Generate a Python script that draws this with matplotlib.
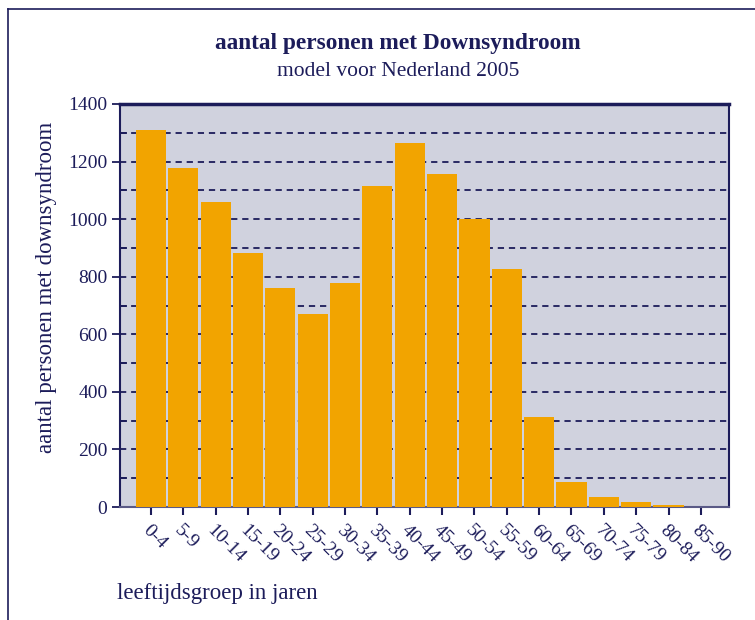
import matplotlib
matplotlib.use('Agg')
import matplotlib.pyplot as plt
from matplotlib.lines import Line2D
from matplotlib.ticker import MultipleLocator

# leeftijdsgroepen en aantallen
leeftijden = ['0-4', '5-9', '10-14', '15-19', '20-24', '25-29', '30-34', '35-39',
              '40-44', '45-49', '50-54', '55-59', '60-64', '65-69', '70-74',
              '75-79', '80-84', '85-90']
aantallen = [1310, 1178, 1060, 882, 762, 670, 778, 1115,
             1265, 1157, 1000, 827, 314, 88, 36, 18, 7, 1]
y_ticks = [0, 200, 400, 600, 800, 1000, 1200, 1400]

navy = '#1c1c5a'
oranje = '#f2a400'
achtergrond = '#d0d2de'

plt.rcParams['font.family'] = ['Liberation Serif', 'DejaVu Serif']
plt.rcParams['lines.scale_dashes'] = False

fig = plt.figure(figsize=(7.55, 6.2), dpi=100)
ax = fig.add_axes([120 / 755, 1 - 507 / 620, 609 / 755, 403 / 620])
ax.set_facecolor(achtergrond)

x = list(range(len(leeftijden)))
ax.bar(x, aantallen, width=0.93, color=oranje, zorder=3)

ax.set_xlim(-0.96, 17.87)
ax.set_ylim(0, 1400)
ax.set_yticks(y_ticks)
ax.yaxis.set_minor_locator(MultipleLocator(100))
ax.set_xticks(x)
ax.set_xticklabels(leeftijden, rotation=-45, ha='left', va='top',
                   rotation_mode='anchor', fontsize=14, color=navy)
ax.tick_params(axis='x', direction='out', length=6, width=1.5, color=navy, pad=5)
ax.tick_params(axis='y', which='major', direction='out', length=6, width=1.3,
               color=navy, labelsize=14, labelcolor=navy, pad=3)
ax.tick_params(axis='y', which='minor', direction='in', length=5, width=1.3, color=navy)

ax.grid(axis='y', which='both', color=navy, linewidth=1.3, dashes=(4.5, 3.5), zorder=1)
ax.set_axisbelow(True)

for side in ['left', 'right', 'bottom']:
    ax.spines[side].set_color(navy)
    ax.spines[side].set_linewidth(1.5)
ax.spines['top'].set_color(navy)
ax.spines['top'].set_linewidth(2.5)
ax.spines['bottom'].set_color('#5a5a86')

ax.set_ylabel('aantal personen met downsyndroom', fontsize=16.5, color=navy)
ax.yaxis.set_label_coords(-0.103, 0.546)

fig.text(398 / 755, 1 - 43 / 620, 'aantal personen met Downsyndroom', ha='center',
         va='center', fontsize=16.8, fontweight='bold', color=navy)
fig.text(398 / 755, 1 - 72 / 620, 'model voor Nederland 2005', ha='center',
         va='center', fontsize=15.5, color=navy)
fig.text(117 / 755, 1 - 593 / 620, 'leeftijdsgroep in jaren', ha='left',
         va='center', fontsize=16.5, color=navy)

# kader om de figuur (boven en links)
fig.add_artist(Line2D([8 / 755, 1], [1 - 9 / 620, 1 - 9 / 620], color=navy, linewidth=1.2))
fig.add_artist(Line2D([8 / 755, 8 / 755], [0, 1 - 9 / 620], color=navy, linewidth=1.2))

fig.savefig('out.png', dpi=100)
